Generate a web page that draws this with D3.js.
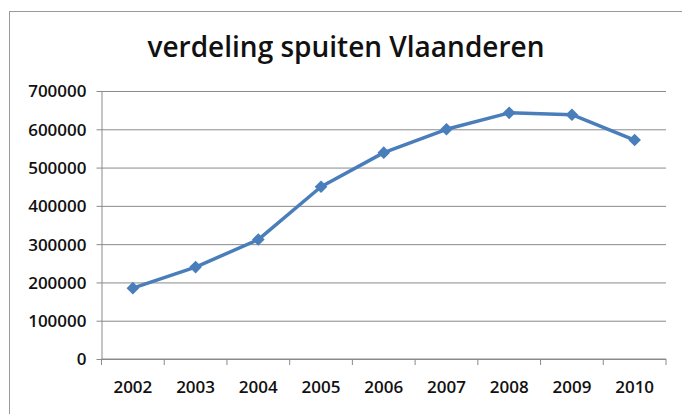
<!DOCTYPE html>
<html>
<head>
<meta charset="utf-8">
<script src="https://cdn.jsdelivr.net/npm/d3@7"></script>
<style>
    body { margin: 0; background: #fff; }
    svg { display: block; }
    .tick text { font-family: "Open Sans", sans-serif; font-weight: 600; fill: #111; }
</style>
</head>
<body>
<svg id="chart" width="682" height="414"></svg>
<script>
/*------------------- data --------------------*/
const title = "verdeling spuiten Vlaanderen";
const years = ["2002", "2003", "2004", "2005", "2006", "2007", "2008", "2009", "2010"];
const spuiten = [185000, 240000, 312000, 450000, 539000, 600000, 643000, 638000, 572000];
const yTicks = [0, 100000, 200000, 300000, 400000, 500000, 600000, 700000];

/*------------------- layout --------------------*/
const W = 682, H = 414;
const plot = { left: 101.5, right: 666, top: 91, bottom: 359 };
const gridColor = "#8a8a8a";
const lineColor = "#4a7ebb";

const svg = d3.select("#chart");

// outer frame of the chart (runs off right and bottom)
svg.append("rect")
    .attr("x", 9.5)
    .attr("y", 11.5)
    .attr("width", W + 20)
    .attr("height", H + 20)
    .attr("fill", "#fff")
    .attr("stroke", "#9a9a9a");

// title
svg.append("text")
    .attr("x", 346)
    .attr("y", 57)
    .attr("text-anchor", "middle")
    .style("font-family", "'Open Sans', sans-serif")
    .style("font-weight", "600")
    .style("font-size", "28px")
    .style("fill", "#111")
    .text(title);

let x = d3.scaleBand()
    .domain(years)
    .range([plot.left, plot.right]);

let y = d3.scaleLinear()
    .domain([0, 700000])
    .range([plot.bottom, plot.top]);

// y axis with gridlines
let yAxis = svg.append("g")
    .attr("transform", "translate(" + plot.left + ",0)")
    .call(d3.axisLeft(y)
        .tickValues(yTicks)
        .tickSizeInner(-(plot.right - plot.left))
        .tickSizeOuter(0)
        .tickPadding(15)
        .tickFormat(d3.format("d")));

yAxis.select(".domain").attr("stroke", gridColor);
yAxis.selectAll(".tick line")
    .attr("stroke", gridColor)
    .attr("x1", -5);
yAxis.selectAll(".tick text")
    .style("font-size", "17px")
    .attr("dy", "0.35em");

// x axis: labels centred in bands, ticks on band edges
let xAxis = svg.append("g")
    .attr("transform", "translate(0," + plot.bottom + ")")
    .call(d3.axisBottom(x).tickSize(0).tickPadding(22));

xAxis.select(".domain").remove();
xAxis.selectAll(".tick text")
    .style("font-size", "17px");

xAxis.append("line")
    .attr("x1", plot.left)
    .attr("x2", plot.right)
    .attr("stroke", gridColor);

xAxis.selectAll(".edge")
    .data(years.map((d, i) => i).concat([years.length]))
    .enter()
    .append("line")
    .attr("class", "edge")
    .attr("x1", i => plot.left + i * x.step())
    .attr("x2", i => plot.left + i * x.step())
    .attr("y1", 0)
    .attr("y2", 6)
    .attr("stroke", gridColor);

// the series
const pts = years.map((yr, i) => ({ year: yr, value: spuiten[i] }));

let line = d3.line()
    .x(d => x(d.year) + x.bandwidth() / 2)
    .y(d => y(d.value));

svg.append("path")
    .datum(pts)
    .attr("fill", "none")
    .attr("stroke", lineColor)
    .attr("stroke-width", 3.5)
    .attr("stroke-linejoin", "round")
    .attr("d", line);

svg.selectAll(".marker")
    .data(pts)
    .enter()
    .append("path")
    .attr("class", "marker")
    .attr("d", d3.symbol(d3.symbolSquare, 80))
    .attr("fill", lineColor)
    .attr("transform", d => "translate(" + (x(d.year) + x.bandwidth() / 2) + "," + y(d.value) + ") rotate(45)");
</script>
</body>
</html>
